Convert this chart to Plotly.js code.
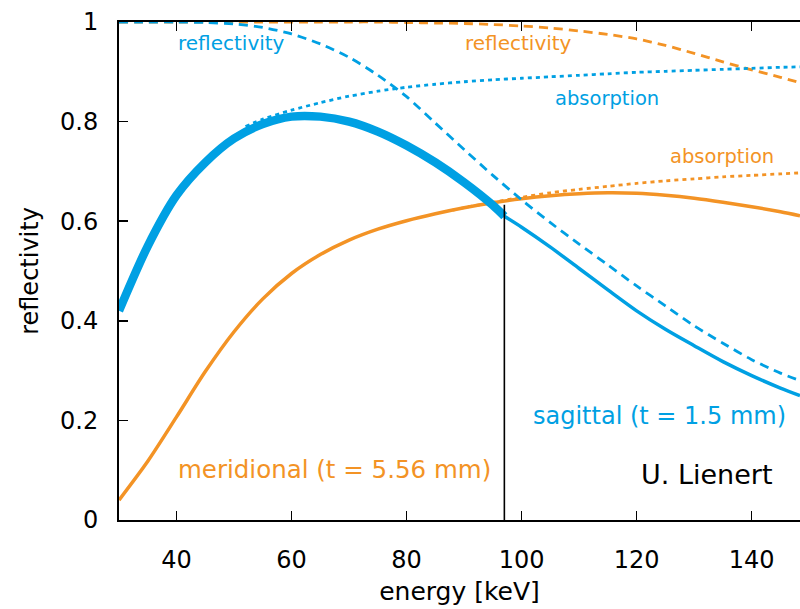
<!DOCTYPE html>
<html>
<head>
<meta charset="utf-8">
<script src="https://cdn.plot.ly/plotly-3.0.1.min.js"></script>
<style>html,body{margin:0;padding:0;background:#fff;}#chart{width:800px;height:609px;}</style>
</head>
<body>
<div id="chart"></div>
<script>
// ---- data ----
const blueColor = '#00a0e3';
const orangeColor = '#f39325';

// sagittal (t = 1.5 mm), thick part up to the cut-off energy
const sagThickE = [30, 35, 40, 45, 50, 55, 60, 65, 70, 75, 80, 85, 90, 95, 97];
const sagThickR = [0.42, 0.55, 0.652, 0.718, 0.766, 0.795, 0.81, 0.81, 0.80, 0.78, 0.752, 0.718, 0.678, 0.632, 0.61];
// sagittal, thin part beyond the cut-off
const sagThinE = [97, 100, 105, 110, 115, 120, 125, 130, 135, 140, 145, 148.4];
const sagThinR = [0.61, 0.588, 0.548, 0.505, 0.462, 0.42, 0.383, 0.35, 0.318, 0.29, 0.265, 0.25];
// sagittal reflectivity (dashed)
const sagReflE = [30, 35, 40, 45, 50, 55, 60, 65, 70, 75, 80, 85, 90, 95, 100, 105, 110, 115, 120, 125, 130, 135, 140, 145, 148.4];
const sagReflR = [1.0, 1.0, 1.0, 0.999, 0.996, 0.989, 0.976, 0.956, 0.929, 0.893, 0.85, 0.797, 0.744, 0.692, 0.643, 0.597, 0.554, 0.512, 0.47, 0.43, 0.39, 0.355, 0.322, 0.295, 0.28];
// sagittal absorption (dotted)
const sagAbsE = [52, 55, 60, 65, 70, 75, 80, 85, 90, 95, 100, 105, 110, 115, 120, 125, 130, 135, 140, 145, 148.4];
const sagAbsR = [0.79, 0.805, 0.823, 0.838, 0.851, 0.861, 0.869, 0.875, 0.88, 0.884, 0.887, 0.89, 0.893, 0.896, 0.899, 0.901, 0.903, 0.905, 0.907, 0.909, 0.91];

// meridional (t = 5.56 mm)
const merE = [30, 35, 40, 45, 50, 55, 60, 65, 70, 75, 80, 85, 90, 95, 100, 105, 110, 115, 120, 125, 130, 135, 140, 145, 148.4];
const merR = [0.04, 0.118, 0.207, 0.298, 0.378, 0.444, 0.495, 0.533, 0.562, 0.584, 0.601, 0.615, 0.627, 0.637, 0.645, 0.651, 0.655, 0.657, 0.656, 0.652, 0.646, 0.638, 0.629, 0.619, 0.611];
// meridional reflectivity (dashed)
const merReflE = [30, 35, 40, 45, 50, 55, 60, 65, 70, 75, 80, 85, 90, 95, 100, 105, 110, 115, 120, 125, 130, 135, 140, 145, 148.4];
const merReflR = [1.0, 1.0, 1.0, 1.0, 1.0, 1.0, 1.0, 1.0, 1.0, 1.0, 0.999, 0.998, 0.997, 0.995, 0.992, 0.988, 0.982, 0.975, 0.966, 0.953, 0.937, 0.92, 0.904, 0.889, 0.878];
// meridional absorption (dotted)
const merAbsE = [88, 90, 95, 100, 105, 110, 115, 120, 125, 130, 135, 140, 145, 148.4];
const merAbsR = [0.622, 0.627, 0.638, 0.648, 0.657, 0.664, 0.67, 0.676, 0.681, 0.685, 0.689, 0.692, 0.695, 0.697];

// cut-off marker
const cutE = [97, 97];
const cutR = [0, 0.633];

const xTickVals = [40, 60, 80, 100, 120, 140];
const yTickVals = [0, 0.2, 0.4, 0.6, 0.8, 1];

const FONT = 'DejaVu Sans, sans-serif';

const smooth = (x, y, color, width, dash) => ({x, y, mode: 'lines',
  line: {color, width, dash: dash || 'solid', shape: 'spline', smoothing: 0.8}});

const traces = [
  smooth(merReflE, merReflR, orangeColor, 2.8, '9px,6px'),
  smooth(merAbsE, merAbsR, orangeColor, 2.8, '4px,4px'),
  smooth(merE, merR, orangeColor, 3.5),
  smooth(sagReflE, sagReflR, blueColor, 2.8, '9px,6px'),
  smooth(sagAbsE, sagAbsR, blueColor, 2.8, '4px,4px'),
  smooth(sagThinE, sagThinR, blueColor, 3.5),
  smooth(sagThickE, sagThickR, blueColor, 8.5),
  {x: cutE, y: cutR, mode: 'lines', line: {color: '#000', width: 1.6}}
];

const ann = (x, y, text, color, size) => ({x, y, xref: 'x', yref: 'y', text, showarrow: false,
  font: {family: FONT, size, color}, xanchor: 'center', yanchor: 'middle'});

const layout = {
  width: 800, height: 609,
  margin: {l: 119, r: 0, t: 22, b: 89},
  paper_bgcolor: '#fff', plot_bgcolor: '#fff',
  showlegend: false,
  font: {family: FONT, color: '#000'},
  xaxis: {
    range: [30, 148.4], tickvals: xTickVals, ticks: 'inside', ticklen: 9, tickwidth: 1.5, tickcolor: '#000',
    showline: true, linecolor: '#000', linewidth: 2, mirror: 'ticks', showgrid: false, zeroline: false,
    tickfont: {family: FONT, size: 24, color: '#000'}, ticklabelstandoff: 17,
    title: {text: 'energy [keV]', font: {family: FONT, size: 25, color: '#000'}, standoff: 10}
  },
  yaxis: {
    range: [0, 1], tickvals: yTickVals, ticks: 'inside', ticklen: 9, tickwidth: 1.5, tickcolor: '#000',
    showline: true, linecolor: '#000', linewidth: 2, mirror: false, showgrid: false, zeroline: false,
    tickfont: {family: FONT, size: 24, color: '#000'}, ticklabelstandoff: 14,
    title: {text: 'reflectivity', font: {family: FONT, size: 24, color: '#000'}, standoff: 15}
  },
  annotations: [
    ann(49.6, 0.958, 'reflectivity', blueColor, 20),
    ann(99.5, 0.958, 'reflectivity', orangeColor, 20),
    ann(114.9, 0.847, 'absorption', blueColor, 19.5),
    ann(134.9, 0.729, 'absorption', orangeColor, 19.5),
    ann(67.5, 0.102, 'meridional (t = 5.56 mm)', orangeColor, 24.5),
    ann(123.9, 0.209, 'sagittal (t = 1.5 mm)', blueColor, 24),
    ann(132.3, 0.092, 'U. Lienert', '#000', 27)
  ]
};

Plotly.newPlot('chart', traces, layout, {displayModeBar: false, staticPlot: true});
</script>
</body>
</html>
